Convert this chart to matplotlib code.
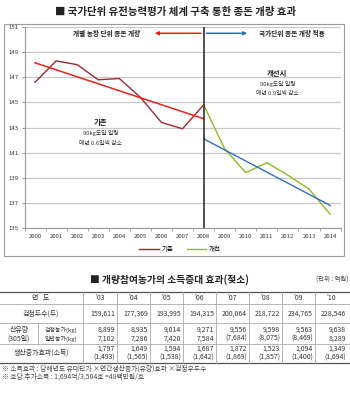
import matplotlib.pyplot as plt
from matplotlib.patches import Rectangle
import numpy as np

plt.rcParams['font.family'] = ['Noto Sans CJK KR', 'DejaVu Sans']

# chart data: days to reach 90kg
years_old = [2000, 2001, 2002, 2003, 2004, 2005, 2006, 2007, 2008]
days_old = [146.6, 148.3, 148.0, 146.8, 146.9, 145.4, 143.4, 142.9, 144.8]
years_new = [2008, 2009, 2010, 2011, 2012, 2013, 2014]
days_new = [144.8, 141.3, 139.4, 140.2, 139.2, 138.1, 136.1]
trend_old_x = [2000, 2008]
trend_old_y = [148.15, 143.7]
trend_new_x = [2008, 2014]
trend_new_y = [142.1, 136.8]
yticks = [135, 137, 139, 141, 143, 145, 147, 149, 151]

# table data
table_years = ["'03", "'04", "'05", "'06", "'07", "'08", "'09", "'10"]
head_count = ['159,611', '177,369', '193,995', '194,315', '200,064', '218,722', '234,765', '228,546']
milk_tested = ['8,899', '8,935', '9,014', '9,271', '9,556', '9,598', '9,563', '9,638']
milk_normal = ['7,102', '7,286', '7,420', '7,584', '(7,684)', '(8,075)', '(8,469)', '8,289']
gain = ['1,797', '1,649', '1,594', '1,687', '1,872', '1,523', '1,094', '1,349']
gain_income = ['(1,493)', '(1,565)', '(1,538)', '(1,642)', '(1,869)', '(1,857)', '(1,400)', '(1,694)']

W, H = 350, 398
fig = plt.figure(figsize=(W / 100, H / 100), dpi=100)

# background axes in pixel coordinates
bg = fig.add_axes([0, 0, 1, 1])
bg.set_xlim(0, W)
bg.set_ylim(H, 0)
bg.axis('off')

bg.text(176, 12, '■ 국가단위 유전능력평가 체계 구축 통한 종돈 개량 효과', ha='center', va='center',
        fontsize=7.5, fontweight='bold', color='#222222')
bg.add_patch(Rectangle((4, 24), 340, 232, fill=False, ec='#9a9a9a', lw=0.8))

# line chart
def px(x0, y0, x1, y1):
    return [x0 / W, 1 - y1 / H, (x1 - x0) / W, (y1 - y0) / H]

ax = fig.add_axes(px(24.5, 27, 340.6, 228))
ax.set_xlim(1999.5, 2014.5)
ax.set_ylim(135, 151)
ax.set_yticks(yticks)
ax.set_yticklabels([str(v) for v in yticks])
ax.set_xticks(range(2000, 2015))
ax.set_xticklabels([str(y) for y in range(2000, 2015)])
ax.set_xticks(np.arange(1999.5, 2015, 1), minor=True)
ax.tick_params(axis='both', which='major', length=0, labelsize=4.3, colors='#333333', pad=4)
ax.tick_params(axis='x', which='minor', length=2, color='#999999')
ax.tick_params(axis='y', which='major', length=2, color='#999999', pad=2)
ax.grid(axis='y', color='#c8c8c8', lw=0.9)
for s in ['top', 'right']:
    ax.spines[s].set_visible(False)
ax.spines['left'].set_color('#999999')
ax.spines['bottom'].set_color('#999999')
ax.set_axisbelow(True)

l1, = ax.plot(years_old, days_old, color='#a3262e', lw=1.0, label='기존')
ax.plot(trend_old_x, trend_old_y, color='#e8211c', lw=1.1)
l2, = ax.plot(years_new, days_new, color='#8fba22', lw=1.0, label='개선')
ax.plot(trend_new_x, trend_new_y, color='#2f6fc0', lw=1.0)
ax.axvline(2008, color='#222222', lw=1.1)

ax.annotate('', xy=(2005.55, 150.5), xytext=(2008, 150.5),
            arrowprops=dict(arrowstyle='-|>', color='#e8211c', lw=1.1, mutation_scale=5))
ax.annotate('', xy=(2010.2, 150.5), xytext=(2008, 150.5),
            arrowprops=dict(arrowstyle='-|>', color='#2f6fc0', lw=1.1, mutation_scale=5))
ax.text(2003.4, 150.5, '개별 농장 단위 종돈 개량', ha='center', va='center', fontsize=4.8,
        fontweight='bold', color='#222222')
ax.text(2012.2, 150.5, '국가단위 종돈 개량 적용', ha='center', va='center', fontsize=4.8,
        fontweight='bold', color='#222222')

ax.text(2003.1, 143.4, '기존', ha='center', va='center', fontsize=5.3, fontweight='bold', color='#222222')
ax.text(2003.1, 142.6, '90kg도달 일령', ha='center', va='center', fontsize=4.2, color='#333333')
ax.text(2003.1, 141.7, '매년 0.6일씩 감소', ha='center', va='center', fontsize=4.2, color='#333333')
ax.text(2011.5, 147.3, '개선시', ha='center', va='center', fontsize=5.3, fontweight='bold', color='#222222')
ax.text(2011.5, 146.5, '90kg도달 일령', ha='center', va='center', fontsize=4.2, color='#333333')
ax.text(2011.5, 145.7, '매년 0.9일씩 감소', ha='center', va='center', fontsize=4.2, color='#333333')

fig.legend(handles=[l1, l2], loc='center', bbox_to_anchor=(180 / W, 1 - 249 / H), ncol=2,
           frameon=False, fontsize=4.7, handlelength=3, columnspacing=2, handletextpad=0.4)

# table section
bg.text(169, 280, '■ 개량참여농가의 소득증대 효과(젖소)', ha='center', va='center',
        fontsize=7.0, fontweight='bold', color='#222222')
bg.text(348, 280, '(단위 : 억원)', ha='right', va='center', fontsize=4.6, color='#444444')

col_edges = [83, 117, 150, 183, 216, 249, 282, 315, 348]
for y, c, lw in [(292, '#555555', 0.9), (304, '#aaaaaa', 0.6), (323, '#aaaaaa', 0.6),
                 (344, '#aaaaaa', 0.6), (363, '#555555', 0.9)]:
    bg.plot([0, 350], [y, y], color=c, lw=lw)
for x in col_edges[:-1]:
    bg.plot([x, x], [292, 363], color='#aaaaaa', lw=0.6)
bg.plot([38, 38], [323, 344], color='#aaaaaa', lw=0.6)

tc = '#333333'
fs = 5.0
bg.text(41, 298, '연   도', ha='center', va='center', fontsize=fs, color=tc)
bg.text(41, 314, '검정두수(두)', ha='center', va='center', fontsize=fs, color=tc)
bg.text(19, 330, '산유량', ha='center', va='center', fontsize=fs, color=tc)
bg.text(19, 339, '(305일)', ha='center', va='center', fontsize=fs, color=tc)
bg.text(61, 330, '검정농가(kg)', ha='center', va='center', fontsize=4.3, color=tc)
bg.text(61, 339, '일반농가(kg)', ha='center', va='center', fontsize=4.3, color=tc)
bg.text(41, 353, '생산증가효과(소득)', ha='center', va='center', fontsize=fs, color=tc)

for i in range(len(table_years)):
    left, right = col_edges[i], col_edges[i + 1]
    bg.text((left + right) / 2, 298, table_years[i], ha='center', va='center', fontsize=fs, color=tc)
    xr = right - 2
    bg.text(xr, 314, head_count[i], ha='right', va='center', fontsize=fs, color=tc)
    bg.text(xr, 330, milk_tested[i], ha='right', va='center', fontsize=fs, color=tc)
    bg.text(xr, 339, milk_normal[i], ha='right', va='center', fontsize=fs, color=tc)
    bg.text(xr, 349, gain[i], ha='right', va='center', fontsize=fs, color=tc)
    bg.text(xr, 358, gain_income[i], ha='right', va='center', fontsize=fs, color=tc)

bg.text(2, 369, '※ 소득효과 : 당해년도 유대단가 ×연간생산증가(유량)효과 ×검정우두수', ha='left', va='center',
        fontsize=4.9, color='#444444')
bg.text(2, 377, '※ 호당 추가소득 : 1,694억/3,504호 =48백만원/호', ha='left', va='center',
        fontsize=4.9, color='#444444')

fig.savefig('out.png', dpi=100)
